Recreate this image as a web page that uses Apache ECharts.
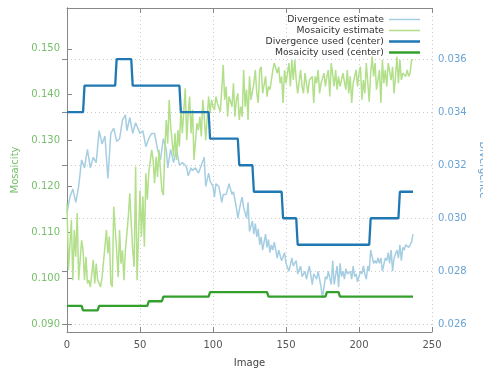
<!DOCTYPE html>
<html>
<head>
<meta charset="utf-8">
<script src="https://cdn.jsdelivr.net/npm/echarts@6/dist/echarts.min.js"></script>
<style>html,body{margin:0;padding:0;background:#fff;}#c{width:483px;height:369px;}</style>
</head>
<body>
<div id="c"></div>
<script>
var xTicks = [0, 50, 100, 150, 200, 250];
var mosTicks = [0.090, 0.100, 0.110, 0.120, 0.130, 0.140, 0.150];
var divTicks = [0.026, 0.028, 0.030, 0.032, 0.034, 0.036];

var divergenceEstimate = [
[0,0.0302],[2,0.0308],[4,0.0311],[6,0.0306],[8,0.0312],[10,0.0322],[12,0.0319],[14,0.0326],[16,0.0319],[18,0.0323],
[20,0.0321],[22,0.0333],[24,0.0328],[26,0.0331],[28,0.0315],[30,0.0332],[32,0.0334],[34,0.0329],[36,0.0330],[38,0.0337],
[40,0.0339],[41,0.0333],[43,0.0338],[45,0.0332],[47,0.0336],[50,0.0332],[52,0.0333],[54,0.0327],[56,0.0330],[58,0.0332],
[60,0.0332],[62,0.0326],[64,0.0322],[66,0.0330],[68,0.0326],[69,0.0319],[71,0.0326],[73,0.0321],[75,0.0326],[77,0.0320],
[79,0.0321],[81,0.0320],[82,0.0319],[83,0.0316],[85,0.0319],[86,0.0318],[88,0.0319],[90,0.0317],[92,0.0320],[94,0.0323],
[95,0.0312],[97,0.0317],[98,0.0314],[100,0.0312],[101,0.0308],[102,0.0313],[104,0.0312],[106,0.0306],[107,0.0309],[109,0.0309],
[111,0.0313],[113,0.0309],[114,0.0310],[116,0.0304],[117,0.0300],[119,0.0306],[120,0.0308],[121,0.0304],[123,0.0300],[124,0.0306],
[125,0.0295],[127,0.0299],[128,0.0294],[129,0.0298],[130,0.0293],[131,0.0296],[132,0.0290],[133,0.0293],[134,0.0288],[136,0.0294],
[137,0.0289],[138,0.0292],[139,0.0287],[140,0.0290],[141,0.0288],[142,0.0291],[144,0.0285],[145,0.0288],[147,0.0284],[149,0.0287],
[150,0.0283],[152,0.0280],[154,0.0285],[155,0.0282],[157,0.0284],[158,0.0279],[160,0.0282],[161,0.0278],[163,0.0280],[164,0.0277],
[166,0.0282],[168,0.0275],[169,0.0279],[171,0.0277],[172,0.0280],[174,0.0274],[175,0.0270],[177,0.0278],[178,0.0277],[179,0.0280],
[181,0.0275],[182,0.0284],[183,0.0275],[185,0.0282],[186,0.0274],[187,0.0283],[188,0.0278],[189,0.0280],[190,0.0277],[191,0.0281],
[192,0.0279],[194,0.0280],[195,0.0277],[196,0.0282],[197,0.0278],[198,0.0279],[199,0.0276],[201,0.0280],[202,0.0279],[203,0.0282],
[204,0.0279],[205,0.0277],[206,0.0282],[207,0.0280],[208,0.0288],[210,0.0283],[211,0.0284],[212,0.0283],[213,0.0285],[214,0.0283],
[215,0.0285],[216,0.0280],[218,0.0285],[219,0.0284],[220,0.0287],[221,0.0283],[222,0.0288],[223,0.0280],[224,0.0285],[226,0.0288],
[227,0.0285],[228,0.0290],[229,0.0284],[230,0.0289],[231,0.0288],[232,0.0290],[234,0.0289],[235,0.0290],[236,0.0291],[237,0.0294]
];

var mosaicityEstimate = [
[0,0.1163],[1,0.1018],[3,0.1127],[4,0.0996],[5,0.1105],[6,0.1047],[7,0.1142],[8,0.0996],[10,0.1083],[11,0.1061],
[12,0.0996],[13,0.1047],[14,0.0989],[15,0.0996],[16,0.0981],[18,0.1040],[19,0.0989],[20,0.1032],[21,0.0996],[22,0.0989],
[23,0.0981],[24,0.1003],[26,0.1069],[27,0.1105],[28,0.1054],[29,0.1091],[30,0.0989],[31,0.0981],[32,0.1156],[34,0.1061],
[35,0.1003],[36,0.1105],[37,0.1032],[38,0.1061],[39,0.0996],[40,0.1061],[42,0.1134],[43,0.1185],[44,0.1120],[45,0.1061],
[46,0.1025],[47,0.1243],[48,0.0996],[50,0.1192],[51,0.1091],[52,0.1178],[53,0.1069],[54,0.1229],[55,0.1171],[56,0.1229],
[58,0.1280],[59,0.1258],[60,0.1207],[61,0.1265],[62,0.1221],[63,0.1280],[65,0.1192],[66,0.1181],[67,0.1280],[68,0.1345],
[69,0.1294],[70,0.1389],[71,0.1331],[73,0.1265],[74,0.1316],[75,0.1258],[76,0.1323],[77,0.1287],[78,0.1367],[79,0.1316],
[81,0.1414],[82,0.1301],[83,0.1360],[84,0.1396],[85,0.1316],[86,0.1367],[87,0.1258],[89,0.1338],[90,0.1323],[91,0.1352],
[92,0.1309],[93,0.1389],[94,0.1352],[95,0.1301],[97,0.1396],[98,0.1360],[99,0.1389],[100,0.1374],[101,0.1367],[102,0.1396],
[103,0.1382],[105,0.1363],[106,0.1411],[107,0.1465],[108,0.1389],[109,0.1418],[110,0.1352],[111,0.1396],[113,0.1374],[114,0.1425],
[115,0.1352],[116,0.1389],[117,0.1403],[118,0.1345],[119,0.1374],[120,0.1352],[121,0.1454],[122,0.1374],[123,0.1411],[124,0.1345],
[125,0.1440],[126,0.1389],[128,0.1425],[129,0.1454],[130,0.1403],[131,0.1382],[132,0.1454],[133,0.1461],[134,0.1403],[136,0.1440],
[137,0.1396],[138,0.1418],[139,0.1411],[140,0.1432],[141,0.1454],[142,0.1469],[144,0.1447],[145,0.1461],[146,0.1425],[147,0.1440],
[148,0.1382],[149,0.1454],[150,0.1425],[152,0.1469],[153,0.1418],[154,0.1476],[155,0.1432],[156,0.1476],[157,0.1432],[158,0.1403],
[160,0.1454],[161,0.1418],[162,0.1403],[163,0.1447],[164,0.1425],[165,0.1403],[166,0.1432],[168,0.1440],[169,0.1382],[170,0.1440],
[171,0.1425],[172,0.1454],[173,0.1403],[174,0.1425],[176,0.1447],[177,0.1418],[178,0.1440],[179,0.1454],[180,0.1396],[181,0.1469],
[183,0.1418],[184,0.1454],[185,0.1411],[186,0.1440],[187,0.1418],[188,0.1432],[189,0.1447],[191,0.1411],[192,0.1454],[193,0.1403],
[194,0.1440],[195,0.1382],[196,0.1425],[198,0.1454],[199,0.1418],[200,0.1447],[201,0.1461],[202,0.1389],[203,0.1432],[204,0.1403],
[205,0.1469],[207,0.1385],[208,0.1447],[209,0.1483],[210,0.1440],[211,0.1469],[212,0.1411],[214,0.1454],[215,0.1382],[216,0.1476],
[217,0.1425],[218,0.1454],[219,0.1418],[220,0.1469],[222,0.1432],[223,0.1461],[224,0.1403],[225,0.1440],[226,0.1483],[227,0.1425],
[228,0.1476],[229,0.1432],[230,0.1447],[232,0.1440],[233,0.1454],[234,0.1440],[235,0.1447],[236,0.1476],[237,0.1476]
];

var divergenceUsed = [
[0,0.034],[11,0.034],[12,0.035],[33,0.035],[34,0.036],[44,0.036],[45,0.035],[77,0.035],[78,0.034],[97,0.034],
[98,0.033],[117,0.033],[118,0.032],[127,0.032],[128,0.031],[147,0.031],[148,0.030],[157,0.030],[158,0.029],[207,0.029],
[208,0.030],[227,0.030],[228,0.031],[237,0.031]
];

var mosaicityUsed = [
[0,0.094],[10,0.094],[11,0.093],[21,0.093],[22,0.094],[55,0.094],[56,0.095],[65,0.095],[66,0.096],[97,0.096],
[98,0.097],[137,0.097],[138,0.096],[177,0.096],[178,0.097],[186,0.097],[187,0.096],[237,0.096]
];

var FONT = 'DejaVu Sans';
var AXC = '#888888';
var thinIcon = 'path://M0,0h62v3h-62z';
var thickIcon = 'path://M0,0h31v2.5h-31z';
var chart = echarts.init(document.getElementById('c'), null, {renderer: 'canvas'});
chart.setOption({
  animation: false,
  backgroundColor: '#ffffff',
  textStyle: {fontFamily: FONT},
  grid: {left: 67, right: 51, top: 8, bottom: 37, containLabel: false, outerBoundsMode: 'none'},
  legend: {
    orient: 'vertical', right: 58, top: 10, align: 'right',
    itemWidth: 31, itemHeight: 9, itemGap: 2, itemTextGap: 6,
    textStyle: {fontFamily: FONT, fontSize: 9.3, lineHeight: 9, color: '#333'},
    data: [
      {name: 'Divergence estimate', icon: thinIcon},
      {name: 'Mosaicity estimate', icon: thinIcon},
      {name: 'Divergence used (center)', icon: thickIcon},
      {name: 'Mosaicity used (center)', icon: thickIcon}
    ]
  },
  xAxis: [{
    type: 'value', min: 0, max: 250, interval: 50, position: 'bottom',
    name: 'Image', nameLocation: 'middle', nameGap: 26,
    nameTextStyle: {fontFamily: FONT, fontSize: 10, color: '#444'},
    axisLine: {lineStyle: {color: AXC, width: 1}},
    axisTick: {inside: true, length: 5, lineStyle: {color: AXC}},
    axisLabel: {fontFamily: FONT, fontSize: 10, color: '#555', margin: 8},
    splitLine: {show: true, lineStyle: {color: '#cccccc', type: [1, 3], width: 1}}
  }, {
    type: 'value', min: 0, max: 250, interval: 50, position: 'top',
    axisLine: {lineStyle: {color: AXC, width: 1}},
    axisTick: {inside: true, length: 5, lineStyle: {color: AXC}},
    axisLabel: {show: false}, splitLine: {show: false}
  }],
  yAxis: [{
    type: 'value', min: 0.0883, max: 0.1589, position: 'left',
    name: 'Mosaicity', nameLocation: 'middle', nameGap: 43, nameRotate: 90,
    nameTextStyle: {fontFamily: FONT, fontSize: 10, color: '#77bf6a'},
    axisLine: {show: true, lineStyle: {color: AXC, width: 1}},
    axisTick: {show: true, inside: true, length: 5, lineStyle: {color: AXC}, customValues: mosTicks},
    axisLabel: {fontFamily: FONT, fontSize: 10, color: '#77bf6a', margin: 7, customValues: mosTicks,
      formatter: function (v) { return v.toFixed(3); }},
    splitLine: {show: false}
  }, {
    type: 'value', min: 0.02571, max: 0.03793, position: 'right',
    name: 'Divergence', nameLocation: 'middle', nameGap: 43, nameRotate: -90,
    nameTextStyle: {fontFamily: FONT, fontSize: 10, color: '#6aa3d2'},
    axisLine: {show: true, lineStyle: {color: AXC, width: 1}},
    axisTick: {show: true, inside: true, length: 5, lineStyle: {color: AXC}, customValues: divTicks},
    axisLabel: {fontFamily: FONT, fontSize: 10, color: '#6aa3d2', margin: 6, customValues: divTicks,
      formatter: function (v) { return v.toFixed(3); }},
    splitLine: {show: true, lineStyle: {color: '#cccccc', type: [1, 3], width: 1}}
  }],
  series: [{
    name: 'Divergence estimate', type: 'line', yAxisIndex: 1, data: divergenceEstimate,
    symbol: 'none', lineStyle: {color: '#a6cee3', width: 1.5}, itemStyle: {color: '#a6cee3'}, z: 2
  }, {
    name: 'Mosaicity estimate', type: 'line', yAxisIndex: 0, data: mosaicityEstimate,
    symbol: 'none', lineStyle: {color: '#b2df8a', width: 1.5}, itemStyle: {color: '#b2df8a'}, z: 2
  }, {
    name: 'Divergence used (center)', type: 'line', yAxisIndex: 1, data: divergenceUsed,
    symbol: 'none', lineStyle: {color: '#1f78b4', width: 2.3}, itemStyle: {color: '#1f78b4'}, z: 3
  }, {
    name: 'Mosaicity used (center)', type: 'line', yAxisIndex: 0, data: mosaicityUsed,
    symbol: 'none', lineStyle: {color: '#33a02c', width: 2.3}, itemStyle: {color: '#33a02c'}, z: 3
  }]
});
</script>
</body>
</html>
